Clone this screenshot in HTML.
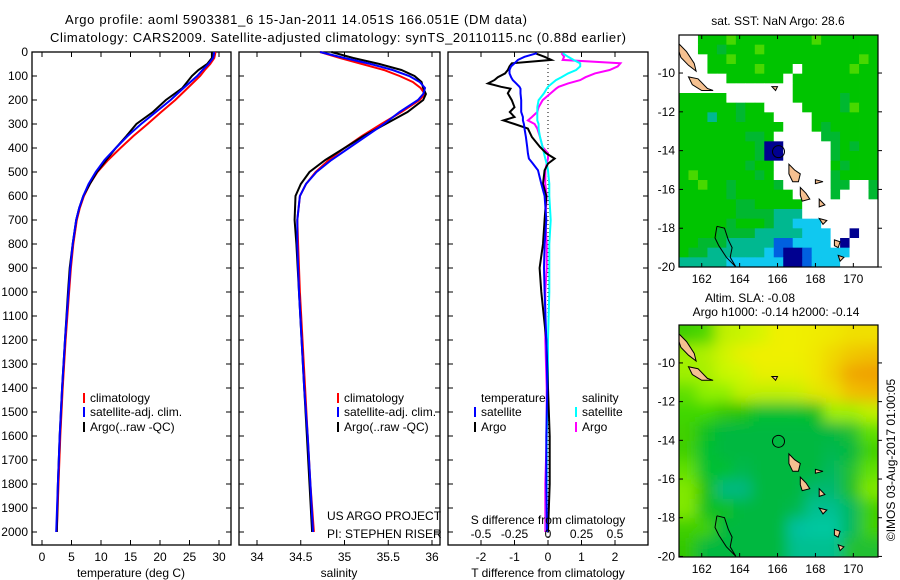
<!DOCTYPE html>
<html><head><meta charset="utf-8"><style>
html,body{margin:0;padding:0;background:#fff;}
svg{display:block;font-family:"Liberation Sans",sans-serif;}
text{fill:#000;}
</style></head><body>
<svg id="fig" width="900" height="580" viewBox="0 0 900 580" xmlns="http://www.w3.org/2000/svg">
<text x="65" y="24" font-size="13" textLength="462">Argo profile: aoml 5903381_6 15-Jan-2011 14.051S 166.051E (DM data)</text>
<text x="50" y="42" font-size="13" textLength="576">Climatology: CARS2009. Satellite-adjusted climatology: synTS_20110115.nc (0.88d earlier)</text>
<g id="p1"></g>
<g id="p2"></g>
<g id="p3"></g>
<g id="m1"></g>
<g id="m2"></g>
<text transform="translate(895,460) rotate(-90)" text-anchor="middle" font-size="12">©IMOS 03-Aug-2017 01:00:05</text>
</svg>
<script>
// ---- profile data ----
const depthT = [0,25,50,75,100,150,200,250,300,350,400,450,500,550,600,650,700,800,900,1000,1200,1400,1600,1800,2000];
const tClim = [29.4,29.2,28.5,27.6,26.8,24.7,22.6,20.2,17.9,15.5,13.3,11.2,9.4,8.1,7.1,6.4,5.9,5.3,4.9,4.6,4.0,3.5,3.1,2.8,2.5];
const tSat = [29.2,29.0,28.2,27.2,26.3,24.0,21.8,19.3,16.8,14.5,12.5,10.6,9.1,7.9,7.0,6.3,5.8,5.2,4.8,4.5,3.9,3.4,3.0,2.7,2.4];
const tArgo = [28.8,28.8,28.0,26.5,25.4,23.8,21.0,18.8,16.0,14.3,12.5,10.9,9.3,8.1,7.0,6.3,5.8,5.2,4.7,4.4,3.9,3.4,3.0,2.7,2.5];
const depthS = [0,25,50,75,100,125,150,175,200,250,300,350,400,450,500,550,600,700,800,1000,1200,1400,1600,1800,2000];
const sClim = [34.72,34.95,35.2,35.45,35.63,35.78,35.87,35.92,35.86,35.65,35.42,35.2,35.0,34.82,34.67,34.56,34.49,34.46,34.47,34.49,34.52,34.55,34.58,34.61,34.65];
const sSat = [34.72,35.0,35.3,35.55,35.74,35.86,35.92,35.9,35.84,35.63,35.45,35.25,35.05,34.85,34.68,34.56,34.49,34.46,34.46,34.48,34.51,34.54,34.58,34.61,34.64];
const sArgo = [34.85,35.1,35.4,35.65,35.8,35.88,35.9,35.93,35.9,35.72,35.47,35.22,35.0,34.78,34.6,34.5,34.44,34.43,34.45,34.48,34.51,34.54,34.57,34.60,34.63];
const depthD = [5,20,33,47,60,75,89,105,117,131,145,153,172,201,230,250,271,285,300,319,354,396,422,444,465,493,549,600,700,800,900,1000,1200,1400,1600,1800,2000];
const dTArgo = [-0.39,-0.1,0.1,-1.08,-1.15,-1.2,-1.28,-1.5,-1.6,-1.79,-1.4,-1.12,-1.2,-1.08,-1.0,-1.14,-1.0,-1.33,-1.0,-0.6,-0.48,-0.24,-0.05,0.2,0.0,-0.1,-0.15,-0.05,-0.1,-0.15,-0.25,-0.2,-0.05,0.0,0.05,0.05,0.0];
const dTSat = [-0.33,-0.7,-0.9,-1.0,-1.1,-1.15,-1.15,-1.1,-1.05,-0.95,-0.85,-0.82,-0.82,-0.8,-0.8,-0.8,-0.75,-0.75,-0.72,-0.7,-0.66,-0.62,-0.6,-0.57,-0.45,-0.3,-0.2,-0.1,-0.05,-0.1,-0.12,-0.1,-0.05,-0.02,-0.05,-0.05,-0.03];
const dSArgo = [0.1,0.12,0.11,0.54,0.52,0.46,0.35,0.28,0.24,0.15,0.08,0.06,0.02,-0.04,-0.07,-0.08,-0.12,-0.15,-0.1,-0.08,-0.06,-0.04,0.0,0.0,-0.01,-0.02,-0.02,-0.01,-0.02,-0.01,-0.01,-0.02,-0.02,-0.01,-0.01,-0.02,-0.02];
const dSSat = [0.11,0.15,0.19,0.24,0.24,0.21,0.15,0.1,0.06,0.03,0.0,-0.01,-0.03,-0.07,-0.08,-0.08,-0.08,-0.08,-0.07,-0.07,-0.06,-0.04,-0.03,-0.02,-0.01,0.0,0.01,0.01,0.02,0.01,0.01,0.01,0.0,0.0,-0.01,-0.01,-0.01];
const depthTicks = [0,100,200,300,400,500,600,700,800,900,1000,1100,1200,1300,1400,1500,1600,1700,1800,1900,2000];
const tempTicks = [0,5,10,15,20,25,30];
const salTicks = [34,34.5,35,35.5,36];
const dTTicks = [-2,-1,0,1,2];
const dSTicks = [-0.5,-0.25,0,0.25,0.5];
const lonTicks = [162,164,166,168,170];
const latTicks = [-10,-12,-14,-16,-18,-20];

// SST map grid (0.5 deg cells, 21 cols x 24 rows)
const sstGrid = [
"wwggglgggggggglgggggg",
"wwgghggglgggggggggggg",
"wwwgglggggggggggggglg",
"wwwggggglgggwggggglgg",
"wwwwwggggggwgggggggggl",
"wwwwwwwwwwwwgggggggggg",
"gggggwwwwwwwggggghggg",
"gggggghggwwwwgggghlgg",
"gggtgghgggwwwwgggggggg",
"gggggggggggwwwghgggggg",
"ggggggghhgwwwwwhhgggggg",
"gggggggghnnwwwwwhghgggg",
"gggggggghnnwwwwwhgggggg",
"ggggggghggwwwwwwghgggwg",
"glgggggghgwwwwwwhgggggh",
"gglgghgggghwwwwwhhwwhhh",
"ggggghggggggwwwwhwwwhhh",
"gggggghhgggggwwwwwwwwww",
"gggggghhhhtttwwwwwwwwww",
"ggggghggghttcccwwwwwwww",
"gggghhhhtttttcccwwnwwww",
"gghhhtttttbbccccwnwwwww",
"ghhttttttcbnnbccccwwwww",
"tttttccccccnnbcccwwwwww"];
const sstColors = {w:"#ffffff",g:"#00c400",h:"#00b830",l:"#48d800",t:"#00b890",c:"#10c8f0",b:"#0060e0",n:"#000090"};
// SLA map grid (1 deg cells, 11 cols x 12 rows)
const slaGrid = [
["#40d000","#50d800","#c0f000","#c8f400","#d8f400","#f0f000","#f0f000","#f0ec00","#f0e800","#f0e000","#f0e000"],
["#a0f000","#b0f000","#d0f400","#e8f000","#f0f000","#f0f000","#f0f000","#f0e800","#f0d800","#f0c800","#f0c000"],
["#a0f000","#a8f000","#c8f800","#d0f800","#e8f000","#e8f000","#e8f000","#f0e800","#f0d000","#f0a800","#f0a000"],
["#60e000","#90f000","#90f000","#c0f000","#c0f000","#c0f000","#c8f000","#e0e800","#e8e000","#f0c000","#f0b800"],
["#40d800","#40d800","#30c800","#20c400","#00c030","#00c030","#00c030","#10c020","#a0f000","#a0f000","#c0f000"],
["#40d000","#10c020","#00b840","#00b840","#00b840","#00b840","#00b840","#00b840","#00b840","#20c030","#60e000"],
["#40d000","#00c030","#00b840","#00b840","#00b840","#00b840","#00b840","#00b840","#00b850","#00b840","#40d000"],
["#60e000","#00c030","#00c030","#00b850","#00b840","#00b840","#00b840","#00b840","#00b860","#20c030","#60e000"],
["#80e800","#20c000","#00b880","#00b880","#00b840","#00b840","#00b840","#00b870","#00b870","#20c020","#80e800"],
["#80e800","#10c020","#10c020","#00b840","#00b840","#00b840","#00b850","#00c090","#00c090","#00b860","#40d000"],
["#40d000","#40d000","#00b840","#00b840","#00b840","#00b840","#00c0a0","#00c8a0","#00c8a0","#00b860","#40d000"],
["#30c800","#00b840","#00b840","#00b840","#00b840","#00b840","#00c090","#00c090","#00c090","#20c030","#20c030"]];

const NS="http://www.w3.org/2000/svg";
function mk(parent,tag,attrs,txt){const e=document.createElementNS(NS,tag);for(const k in attrs)e.setAttribute(k,attrs[k]);if(txt!==undefined)e.textContent=txt;parent.appendChild(e);return e;}

// axis functions
const yD = d => 52 + d*0.24;
const xT = t => 42 + t*5.9;
const xS = s => 257 + (s-34)*87.5;
const xdT = v => 548 + v*33.5;
const xdS = v => 548 + v*134;
const PT=52, PB=545;

function profile(g,xs,ds,fx,color,name){
  const pts=xs.map((v,i)=>fx(v).toFixed(1)+","+yD(ds[i]).toFixed(1)).join(" ");
  const p=mk(g,"polyline",{points:pts,fill:"none",stroke:color,"stroke-width":2});
  
  
}
function frame(g,x0,x1,xticks,fx,topTicks,yLabels){
  mk(g,"rect",{x:x0,y:PT,width:x1-x0,height:PB-PT,fill:"none",stroke:"#000","stroke-width":1.3});
  xticks.forEach(v=>{const x=fx(v);
    mk(g,"line",{x1:x,x2:x,y1:PB,y2:PB-5,stroke:"#000"});
    if(topTicks) mk(g,"line",{x1:x,x2:x,y1:PT,y2:PT+5,stroke:"#000"});
  });
  depthTicks.forEach(d=>{const y=yD(d);
    mk(g,"line",{x1:x0,x2:x0+5,y1:y,y2:y,stroke:"#000"});
    mk(g,"line",{x1:x1,x2:x1-5,y1:y,y2:y,stroke:"#000"});
    if(yLabels){const t=mk(g,"text",{x:x0-4,y:y+4,"text-anchor":"end","font-size":12},String(d));
      
      }
  });
}
function xLabels(g,ticks,fx,y,fmt){
  ticks.forEach(v=>{const t=mk(g,"text",{x:fx(v),y:y,"text-anchor":"middle","font-size":12},fmt?fmt(v):String(v));
    
    });
}
function legendRow(g,x,y,color,label){
  mk(g,"line",{x1:x,x2:x,y1:y-9,y2:y+1,stroke:color,"stroke-width":2});
  const t=mk(g,"text",{x:x+6,y:y,"font-size":12},label);
  
  
}

// Panel 1
const p1=document.getElementById("p1");
frame(p1,32,231,tempTicks,xT,true,true);
profile(p1,tClim,depthT,xT,"#ff0000","temp-climatology-line");
profile(p1,tArgo,depthT,xT,"#000000","temp-argo-line");
profile(p1,tSat,depthT,xT,"#0000ff","temp-satellite-line");
xLabels(p1,tempTicks,xT,561);
mk(p1,"text",{x:131,y:577,"text-anchor":"middle","font-size":12,},"temperature (deg C)");
legendRow(p1,84,402,"#ff0000","climatology");
legendRow(p1,84,416,"#0000ff","satellite-adj. clim.");
legendRow(p1,84,431,"#000000","Argo(..raw -QC)");

// Panel 2
const p2=document.getElementById("p2");
frame(p2,239,440,salTicks,xS,true,false);
profile(p2,sClim,depthS,xS,"#ff0000","sal-climatology-line");
profile(p2,sArgo,depthS,xS,"#000000","sal-argo-line");
profile(p2,sSat,depthS,xS,"#0000ff","sal-satellite-line");
xLabels(p2,salTicks,xS,561);
mk(p2,"text",{x:339,y:577,"text-anchor":"middle","font-size":12,},"salinity");
legendRow(p2,338,402,"#ff0000","climatology");
legendRow(p2,338,416,"#0000ff","satellite-adj. clim.");
legendRow(p2,338,431,"#000000","Argo(..raw -QC)");
mk(p2,"text",{x:327,y:520,"font-size":12,},"US ARGO PROJECT");
mk(p2,"text",{x:327,y:538,"font-size":12,},"PI: STEPHEN RISER");

// Panel 3
const p3=document.getElementById("p3");
frame(p3,448,648,dTTicks,xdT,true,false);
mk(p3,"line",{x1:548,x2:548,y1:PT,y2:PB,stroke:"#000","stroke-dasharray":"1,3",});
profile(p3,dSArgo,depthD,xdS,"#ff00ff","sdiff-argo-line");
profile(p3,dSSat,depthD,xdS,"#00ffff","sdiff-satellite-line");
profile(p3,dTArgo,depthD,xdT,"#000000","tdiff-argo-line");
profile(p3,dTSat,depthD,xdT,"#0000ff","tdiff-satellite-line");
xLabels(p3,dTTicks,xdT,561);
xLabels(p3,dSTicks,xdS,538);
mk(p3,"text",{x:548,y:524,"text-anchor":"middle","font-size":12,},"S difference from climatology");
mk(p3,"text",{x:548,y:577,"text-anchor":"middle","font-size":12,},"T difference from climatology");
mk(p3,"text",{x:481,y:402,"font-size":12,},"temperature");
mk(p3,"text",{x:582,y:402,"font-size":12,},"salinity");
legendRow(p3,475,416,"#0000ff","satellite");
legendRow(p3,475,431,"#000000","Argo");
legendRow(p3,576,416,"#00ffff","satellite");
legendRow(p3,576,431,"#ff00ff","Argo");

// ---- maps ----
function mapFrame(g,x0,y0,x1,y1,lx,ly){
  latTicks.forEach(v=>{const y=ly(v);
    mk(g,"line",{x1:x0,x2:x0+4,y1:y,y2:y,stroke:"#000"});
    mk(g,"line",{x1:x1,x2:x1+4,y1:y,y2:y,stroke:"#000"});
    const t=mk(g,"text",{x:x0-4,y:y+4,"text-anchor":"end","font-size":12},String(v));
    
    
  });
  lonTicks.forEach(v=>{const x=lx(v);
    mk(g,"line",{x1:x,x2:x,y1:y1,y2:y1-4,stroke:"#000"});
    mk(g,"line",{x1:x,x2:x,y1:y0,y2:y0+4,stroke:"#000"});
    const t=mk(g,"text",{x:x,y:y1+16,"text-anchor":"middle","font-size":12},String(v));
    
    
  });
  mk(g,"rect",{x:x0,y:y0,width:x1-x0,height:y1-y0,fill:"none",stroke:"#000","stroke-width":1.2});
}
const islands=[
 [[160.8,-8.5],[161.2,-8.9],[161.6,-9.5],[161.7,-9.9],[161.3,-9.6],[160.9,-9.2],[160.8,-8.9]],
 [[161.3,-10.2],[161.8,-10.3],[162.3,-10.8],[162.6,-10.9],[162.0,-10.9],[161.5,-10.6]],
 [[166.6,-14.7],[166.9,-15.0],[167.2,-15.2],[167.1,-15.6],[166.8,-15.6],[166.6,-15.2]],
 [[167.2,-15.9],[167.5,-16.2],[167.7,-16.5],[167.3,-16.6],[167.2,-16.3]],
 [[168.0,-15.5],[168.4,-15.6],[168.0,-15.7]],
 [[168.2,-16.5],[168.5,-16.8],[168.2,-16.9]],
 [[168.2,-17.5],[168.6,-17.6],[168.4,-17.8]],
 [[169.0,-18.6],[169.3,-18.7],[169.2,-19.0],[169.0,-18.9]],
 [[169.2,-19.4],[169.5,-19.5],[169.3,-19.7]],
 [[165.7,-10.7],[166.0,-10.7],[165.9,-10.9]]];
const nc=[[162.8,-17.9],[163.2,-18.0],[163.4,-18.6],[163.6,-19.0],[163.5,-19.5],[163.8,-20.0],[163.3,-19.5],[162.9,-18.9],[162.7,-18.5],[162.8,-17.9]];
function drawLand(g,lx,ly,withNC){
  islands.forEach(poly=>{const p=mk(g,"polygon",{points:poly.map(q=>lx(q[0]).toFixed(1)+","+ly(q[1]).toFixed(1)).join(" "),fill:"#f5c090",stroke:"#000","stroke-width":1});
    
    });
  mk(g,"polyline",{points:nc.map(q=>lx(q[0]).toFixed(1)+","+ly(q[1]).toFixed(1)).join(" "),fill:"none",stroke:"#000","stroke-width":1,});
  const c=mk(g,"circle",{cx:lx(166.051),cy:ly(-14.051),r:6,fill:"none",stroke:"#000","stroke-width":1});
  
  
}
// Map 1 (SST)
const m1=document.getElementById("m1");
const lx1=v=>679+(v-160.8)*18.95, ly1=v=>35+(-8.04-v)*19.4;
mk(m1,"text",{x:778,y:25,"text-anchor":"middle","font-size":12,},"sat. SST: NaN Argo: 28.6");
const cw=(878-679)/21, ch=(267-35)/24;
sstGrid.forEach((row,r)=>{for(let c=0;c<21;c++){const k=row[c]||"g";
  mk(m1,"rect",{x:(679+c*cw).toFixed(2),y:(35+r*ch).toFixed(2),width:(cw+0.4).toFixed(2),height:(ch+0.4).toFixed(2),fill:sstColors[k]});}});
drawLand(m1,lx1,ly1);
mapFrame(m1,679,35,878,267,lx1,ly1);
// Map 2 (SLA)
const m2=document.getElementById("m2");
const lx2=v=>679+(v-160.8)*18.95, ly2=v=>325+(-8.04-v)*19.35;
mk(m2,"text",{x:750,y:302,"text-anchor":"middle","font-size":12,},"Altim. SLA: -0.08");
mk(m2,"text",{x:776,y:316,"text-anchor":"middle","font-size":12,},"Argo h1000: -0.14 h2000: -0.14");
const defs=mk(document.getElementById("fig"),"defs",{});
const cp=mk(defs,"clipPath",{id:"clip2"});mk(cp,"rect",{x:679,y:325,width:199,height:232});
const fl=mk(defs,"filter",{id:"blur2",x:"-10%",y:"-10%",width:"120%",height:"120%"});mk(fl,"feGaussianBlur",{stdDeviation:7});
const cg=mk(m2,"g",{"clip-path":"url(#clip2)"});
const bg=mk(cg,"g",{filter:"url(#blur2)"});
const sw=199/11, sh=232/12;
slaGrid.forEach((row,r)=>row.forEach((col,c)=>{
  let x=679+c*sw, y=325+r*sh, w=sw+0.5, h=sh+0.5;
  if(c===0){x-=20;w+=20;} if(c===10){w+=20;} if(r===0){y-=20;h+=20;} if(r===11){h+=20;}
  mk(bg,"rect",{x:x.toFixed(1),y:y.toFixed(1),width:w.toFixed(1),height:h.toFixed(1),fill:col});
}));
drawLand(m2,lx2,ly2);
mapFrame(m2,679,325,878,557,lx2,ly2);
</script>
</body></html>
